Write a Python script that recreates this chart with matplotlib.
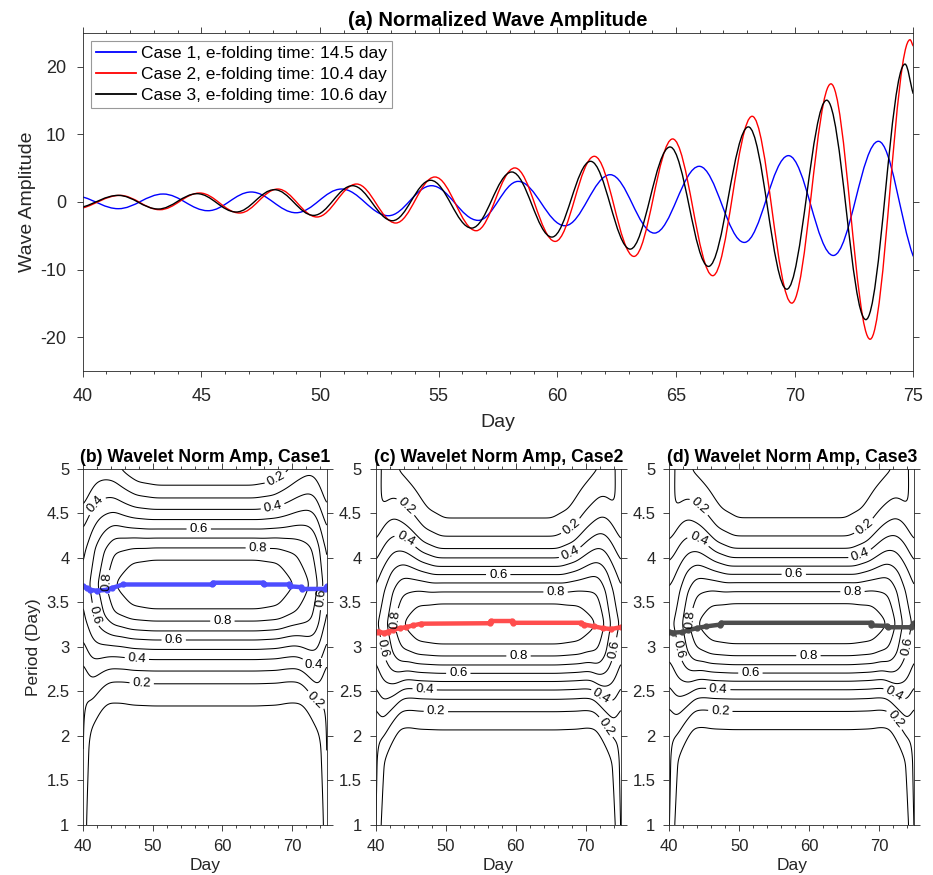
import numpy as np
import matplotlib
matplotlib.use('Agg')
import matplotlib.pyplot as plt
from matplotlib.path import Path
from matplotlib.patches import PathPatch
from matplotlib.lines import Line2D
from matplotlib.ticker import MultipleLocator

plt.rcParams['font.family'] = ['Liberation Sans', 'DejaVu Sans']
plt.rcParams['axes.unicode_minus'] = False

# ---- panel (a): extrema of each wave (day, amplitude) ----
case1_days = [40, 41.5, 43.39, 45.28, 47.1, 48.99, 50.91, 52.88, 54.7, 56.67, 58.35, 60.32,
              62.23, 64.09, 65.98, 67.88, 69.74, 71.63, 73.53, 75]
case1_amp = [0.74, -0.99, 1.18, -1.29, 1.48, -1.59, 1.92, -2.03, 2.41, -2.72, 3.05, -3.51,
             4.04, -4.6, 5.28, -5.98, 6.86, -7.91, 8.98, -8.05]
case2_days = [40, 41.57, 43.25, 44.93, 46.61, 48.22, 49.87, 51.54, 53.19, 54.84, 56.58, 58.21,
              59.91, 61.56, 63.23, 64.86, 66.55, 68.21, 69.88, 71.53, 73.18, 74.86, 75]
case2_amp = [-0.89, 0.98, -1.14, 1.33, -1.63, 1.92, -2.22, 2.66, -3.11, 3.7, -4.25, 5.04,
             -5.83, 6.76, -8.05, 9.33, -10.9, 12.68, -14.96, 17.48, -20.3, 24.0, 23.05]
case3_days = [40, 41.5, 43.18, 44.82, 46.47, 48.08, 49.73, 51.37, 53.05, 54.66, 56.39, 58.08,
              59.77, 61.4, 63.07, 64.75, 66.37, 68.05, 69.67, 71.35, 73.0, 74.65, 75]
case3_amp = [-0.74, 0.98, -1.04, 1.23, -1.48, 1.82, -1.98, 2.41, -2.77, 3.21, -3.86, 4.44,
             -5.19, 6.02, -6.97, 8.14, -9.53, 11.11, -12.9, 15.06, -17.4, 20.4, 16.0]

wave_labels = ['Case 1, e-folding time: 14.5 day',
               'Case 2, e-folding time: 10.4 day',
               'Case 3, e-folding time: 10.6 day']
wave_colors = ['#0000ff', '#ff0000', '#000000']

# ---- panels (b)-(d): wavelet ridge (period of max amplitude) ----
ridge1_days = [40, 40.5, 41, 41.9, 43.4, 44.1, 45.7, 58.5, 58.6, 65.9, 66.0, 69.6, 69.7, 71.3,
               71.4, 74.7, 75]
ridge1_per = [3.68, 3.66, 3.64, 3.63, 3.64, 3.66, 3.70, 3.70, 3.72, 3.72, 3.70, 3.70, 3.68, 3.67,
              3.65, 3.65, 3.68]
ridge2_days = [40, 40.5, 41.2, 41.7, 42.4, 43.4, 44.3, 45.3, 46.5, 56.3, 56.4, 59.5, 59.6, 69.3,
               69.8, 71.2, 72.4, 73.6, 75]
ridge2_per = [3.17, 3.17, 3.155, 3.17, 3.19, 3.21, 3.22, 3.24, 3.26, 3.265, 3.29, 3.29, 3.27, 3.27,
              3.25, 3.23, 3.21, 3.20, 3.22]
ridge3_days = [40, 40.6, 41.8, 42.7, 43.9, 45.3, 47.3, 47.4, 68.8, 68.9, 71.2, 71.3, 74.5, 75]
ridge3_per = [3.17, 3.16, 3.165, 3.185, 3.21, 3.23, 3.25, 3.27, 3.27, 3.24, 3.235, 3.22, 3.22, 3.265]
ridge_colors = ['#4d4dff', '#ff4d4d', '#4d4d4d']

# normalized amplitude vs distance (in period) from the ridge, read at mid-record
prof_level = [1.0, 0.9, 0.8, 0.7, 0.6, 0.5, 0.4, 0.3, 0.2, 0.1, 0.0]
prof1_dist = [0, 0.286, 0.413, 0.523, 0.622, 0.728, 0.841, 0.971, 1.106, 1.34, 2.4]
prof2_dist = [0, 0.234, 0.364, 0.461, 0.555, 0.645, 0.741, 0.841, 0.981, 1.162, 2.2]
prof3_dist = [0, 0.234, 0.364, 0.461, 0.555, 0.645, 0.741, 0.841, 0.981, 1.162, 2.2]
ridge_center = [3.70, 3.257, 3.26]

# amplitude along the ridge (taper towards the record ends)
amp1_days = [40, 40.9, 42.1, 43.3, 44.5, 47, 50, 65, 68, 70.3, 72.6, 73.8, 74.4, 75]
amp1_vals = [0.52, 0.6, 0.7, 0.8, 0.9, 0.98, 1.0, 1.0, 0.98, 0.9, 0.8, 0.7, 0.6, 0.52]
amp2_days = [40, 40.5, 41.7, 42.6, 43.9, 46, 49, 66, 69, 71.6, 72.7, 73.5, 74.6, 75]
amp2_vals = [0.57, 0.61, 0.7, 0.8, 0.9, 0.98, 1.0, 1.0, 0.98, 0.9, 0.8, 0.7, 0.61, 0.57]
amp3_days = [40, 40.9, 41.9, 42.8, 44.0, 46, 49, 66, 69, 71.2, 72.4, 73.3, 74.5, 75]
amp3_vals = [0.57, 0.61, 0.7, 0.8, 0.9, 0.98, 1.0, 1.0, 0.98, 0.9, 0.8, 0.7, 0.61, 0.57]

# widening of the profile vs distance to record end (in units of period),
# separately above (long periods) and below (short periods) the ridge
wid_u = [0, 0.35, 0.6, 0.8, 1.1, 1.35, 1.6, 2.2]
wid1_up = [1.35, 1.45, 1.38, 1.3, 1.18, 1.1, 1.04, 1.0]
wid1_dn = [1.35, 1.45, 1.35, 1.25, 1.13, 1.06, 1.02, 1.0]
wid2_up = [1.5, 1.62, 1.55, 1.45, 1.32, 1.2, 1.1, 1.0]
wid2_dn = [1.5, 1.62, 1.52, 1.38, 1.24, 1.12, 1.03, 1.0]
wid3_up = [1.5, 1.62, 1.55, 1.45, 1.32, 1.2, 1.1, 1.0]
wid3_dn = [1.5, 1.62, 1.52, 1.38, 1.24, 1.12, 1.03, 1.0]

# end (truncation) response
edge_level = [0.25, 0.25, 0.25]
edge_scale = [0.35, 0.7, 0.7]

plain_levels = [0.1, 0.3, 0.5, 0.7, 0.9]
label_levels = [0.2, 0.4, 0.6, 0.8]

label_pos1 = [(67.5, 4.91), (41.9, 4.59), (67.2, 4.59), (56.6, 4.32), (65.1, 4.12), (43.2, 3.73),
              (40.9, 3.35), (60.0, 3.29), (53.0, 3.08), (47.7, 2.87), (73.0, 2.78), (48.4, 2.60),
              (72.8, 2.36), (74.0, 3.55)]
label_pos2 = [(43.4, 4.5), (68.3, 4.31), (43.6, 4.12), (67.9, 4.03), (57.5, 3.82), (65.7, 3.63),
              (42.9, 3.30), (40.5, 2.97), (60.4, 2.90), (51.8, 2.71), (47.0, 2.53), (72.2, 2.44),
              (48.6, 2.29), (72.7, 2.09), (74.3, 2.97)]
label_pos3 = [(43.4, 4.5), (68.6, 4.28), (43.6, 4.12), (67.4, 4.01), (57.8, 3.81), (66.2, 3.62),
              (43.2, 3.30), (41.1, 2.97), (59.9, 2.90), (51.6, 2.71), (47.0, 2.52), (72.1, 2.46),
              (47.3, 2.29), (71.9, 2.16), (74.3, 3.00)]

panel_titles = ['(b) Wavelet Norm Amp, Case1', '(c) Wavelet Norm Amp, Case2',
                '(d) Wavelet Norm Amp, Case3']

axis_color = '#262626'


def wave_path(x, y, k=0.364):
    verts = [(x[0], y[0])]
    codes = [Path.MOVETO]
    n = len(x)
    for i in range(1, n):
        h = (x[i] - x[i - 1]) * k
        c1y = y[i - 1] if i > 1 else y[i - 1] + 0.3 * (y[i] - y[i - 1])
        c2y = y[i] if i < n - 1 else y[i] - 0.3 * (y[i] - y[i - 1])
        verts += [(x[i - 1] + h, c1y), (x[i] - h, c2y), (x[i], y[i])]
        codes += [Path.CURVE4] * 3
    return Path(verts, codes)


def smooth(z, n_t, n_p):
    # light gaussian smoothing along both grid directions
    for axis, n in ((1, n_t), (0, n_p)):
        k = np.exp(-0.5 * (np.arange(-3 * n, 3 * n + 1) / n) ** 2)
        k /= k.sum()
        pad = [(0, 0), (0, 0)]
        pad[axis] = (3 * n, 3 * n)
        zp = np.pad(z, pad, mode='edge')
        z = np.apply_along_axis(lambda v: np.convolve(v, k, mode='valid'), axis, zp)
    return z


def style_axes(ax, size, pad):
    for s in ax.spines.values():
        s.set_color(axis_color)
        s.set_linewidth(0.6)
    ax.tick_params(which='both', direction='out', top=True, right=True, colors=axis_color,
                   labelsize=size, width=0.6, pad=pad)
    ax.tick_params(which='major', length=4)
    ax.tick_params(which='minor', length=2.5)


fig = plt.figure(figsize=(9.33, 8.75), dpi=100)
W, H = 933, 875

# ---- top panel ----
ax = fig.add_axes([82.7 / W, 1 - 371 / H, (913.3 - 82.7) / W, (371 - 33) / H])
waves = [(case1_days, case1_amp), (case2_days, case2_amp), (case3_days, case3_amp)]
handles = []
for (d, a), c, lab in zip(waves, wave_colors, wave_labels):
    ax.add_patch(PathPatch(wave_path(d, a), fill=False, edgecolor=c, lw=1.0))
    handles.append(Line2D([], [], color=c, lw=1.3, label=lab))
ax.set_xlim(40, 75)
ax.set_ylim(-25, 25)
ax.xaxis.set_major_locator(MultipleLocator(5))
ax.xaxis.set_minor_locator(MultipleLocator(1))
ax.yaxis.set_major_locator(MultipleLocator(10))
style_axes(ax, 13, 8)
ax.set_xlabel('Day', fontsize=14, color=axis_color, labelpad=7)
ax.set_ylabel('Wave Amplitude', fontsize=14, color=axis_color, labelpad=3)
ax.set_title('(a) Normalized Wave Amplitude', fontsize=14.5, fontweight='bold', pad=5)
leg = ax.legend(handles=handles, loc='upper left', fontsize=12.5, frameon=True, fancybox=False,
                handlelength=2.3, handletextpad=0.3, labelspacing=0.32, borderpad=0.3,
                borderaxespad=0.45)
leg.get_frame().set_edgecolor('#808080')
leg.get_frame().set_linewidth(0.8)

# ---- bottom panels ----
grid_days = np.linspace(40, 75, 351)
grid_per = np.linspace(1, 5, 401)
T, P = np.meshgrid(grid_days, grid_per)
U = np.minimum(T - 40, 75 - T) / P

lefts = [83.3, 375.7, 669.3]
rights = [326.7, 620.7, 914.0]
ridges = [(ridge1_days, ridge1_per), (ridge2_days, ridge2_per), (ridge3_days, ridge3_per)]
profs = [prof1_dist, prof2_dist, prof3_dist]
amps = [(amp1_days, amp1_vals), (amp2_days, amp2_vals), (amp3_days, amp3_vals)]
wids = [(wid1_up, wid1_dn), (wid2_up, wid2_dn), (wid3_up, wid3_dn)]
label_pos = [label_pos1, label_pos2, label_pos3]

for i in range(3):
    bx = fig.add_axes([lefts[i] / W, 1 - 825 / H, (rights[i] - lefts[i]) / W, (825 - 468.7) / H])
    amp = np.interp(T, *amps[i])
    wid = np.where(P > ridge_center[i], np.interp(U, wid_u, wids[i][0]),
                   np.interp(U, wid_u, wids[i][1]))
    dist = np.abs(P - ridge_center[i]) / wid
    field = amp * np.interp(dist, profs[i], prof_level)
    edge = edge_level[i] * np.exp(-U / edge_scale[i])
    field = smooth(np.maximum(field, edge), 5, 4)
    bx.contour(grid_days, grid_per, field, levels=plain_levels, colors='k', linewidths=0.75)
    cs = bx.contour(grid_days, grid_per, field, levels=label_levels, colors='k',
                    linewidths=0.75)
    bx.clabel(cs, fmt='%.1f', fontsize=9.5, inline=True, inline_spacing=3,
              manual=label_pos[i])
    rd, rp = ridges[i]
    bx.plot(rd, rp, '-', color=ridge_colors[i], lw=3.2, marker='o', ms=3.5,
            solid_capstyle='round')
    bx.set_xlim(40, 75)
    bx.set_ylim(1, 5)
    bx.xaxis.set_major_locator(MultipleLocator(10))
    bx.xaxis.set_minor_locator(MultipleLocator(2))
    bx.set_yticks([1, 1.5, 2, 2.5, 3, 3.5, 4, 4.5, 5])
    bx.set_yticklabels(['1', '1.5', '2', '2.5', '3', '3.5', '4', '4.5', '5'])
    style_axes(bx, 12, 6)
    bx.set_xlabel('Day', fontsize=12.5, color=axis_color, labelpad=3)
    if i == 0:
        bx.set_ylabel('Period (Day)', fontsize=12.5, color=axis_color)
    bx.set_title(panel_titles[i], fontsize=12.7, fontweight='bold', pad=5)

fig.savefig('out.png', dpi=100)
